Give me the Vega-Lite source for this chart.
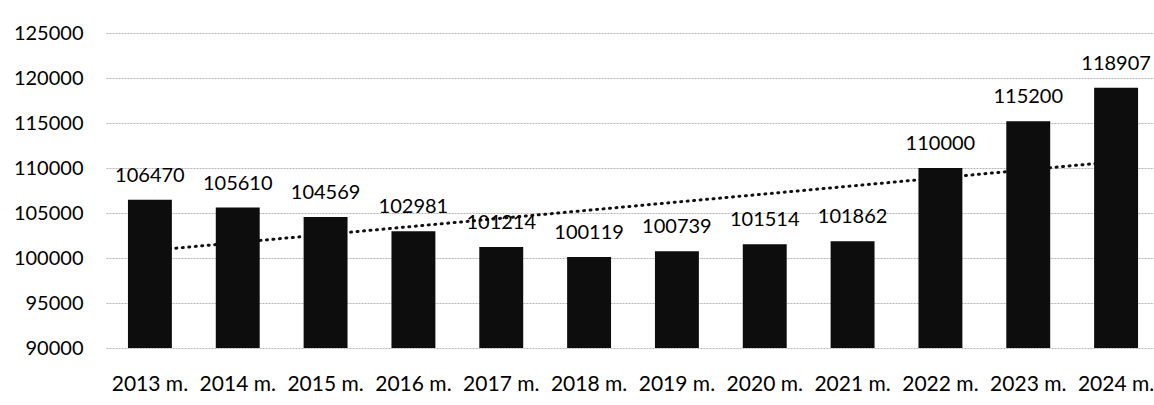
{
  "$schema": "https://vega.github.io/schema/vega-lite/v6.json",
  "width": 1054,
  "height": 315,
  "autosize": "none",
  "padding": {"left": 106, "top": 33, "right": 0, "bottom": 57},
  "background": "white",
  "config": {"view": {"stroke": null}, "font": "Lato"},
  "data": {
    "values": [
      {"year": 2013, "value": 106470},
      {"year": 2014, "value": 105610},
      {"year": 2015, "value": 104569},
      {"year": 2016, "value": 102981},
      {"year": 2017, "value": 101214},
      {"year": 2018, "value": 100119},
      {"year": 2019, "value": 100739},
      {"year": 2020, "value": 101514},
      {"year": 2021, "value": 101862},
      {"year": 2022, "value": 110000},
      {"year": 2023, "value": 115200},
      {"year": 2024, "value": 118907}
    ]
  },
  "encoding": {
    "x": {
      "field": "year",
      "type": "ordinal",
      "scale": {"paddingInner": 0.5, "paddingOuter": 0.25},
      "axis": {
        "title": null,
        "labelAngle": 0,
        "labelExpr": "datum.label + ' m.'",
        "labelFontSize": 21,
        "labelColor": "#000",
        "labelPadding": 25,
        "domain": false,
        "ticks": false
      }
    },
    "y": {
      "field": "value",
      "type": "quantitative",
      "scale": {"domain": [90000, 125000], "zero": false, "nice": false},
      "axis": {
        "title": null,
        "values": [90000, 95000, 100000, 105000, 110000, 115000, 120000, 125000],
        "format": "d",
        "labelFontSize": 20,
        "labelColor": "#000",
        "labelPadding": 23,
        "domain": false,
        "ticks": false,
        "gridColor": "#b5b5b5",
        "gridDash": [2, 1],
        "gridWidth": 1
      }
    }
  },
  "layer": [
    {
      "transform": [{"regression": "value", "on": "year"}],
      "mark": {"type": "line", "color": "#111", "strokeWidth": 3, "strokeDash": [1, 5.5], "strokeCap": "round"}
    },
    {
      "mark": {"type": "bar", "color": "#0d0d0d"},
      "encoding": {"y2": {"datum": 90000}}
    },
    {
      "mark": {"type": "text", "baseline": "alphabetic", "dy": -18, "fontSize": 20, "color": "#000"},
      "encoding": {"text": {"field": "value", "type": "quantitative", "format": "d"}}
    }
  ]
}
